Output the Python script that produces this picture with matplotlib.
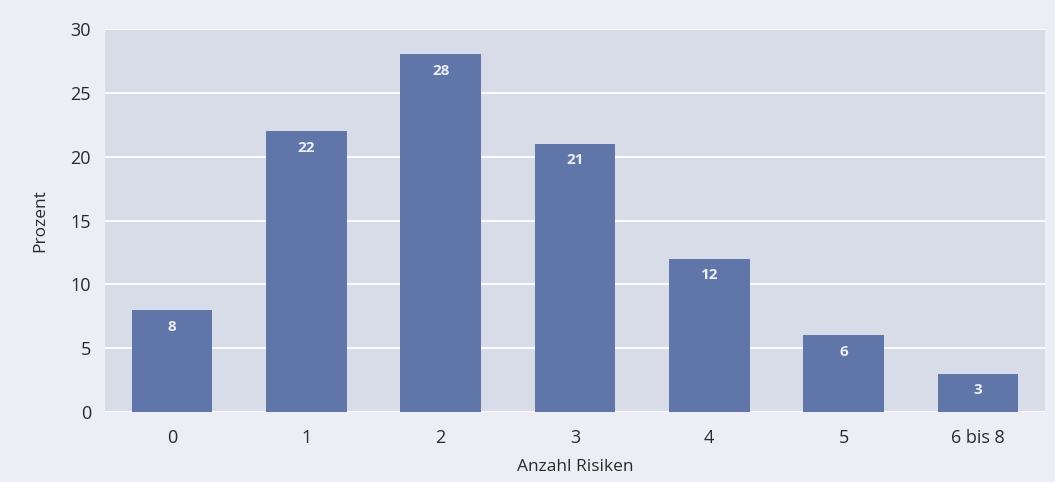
import matplotlib.pyplot as plt

categories = ["0", "1", "2", "3", "4", "5", "6 bis 8"]
values = [8, 22, 28, 21, 12, 6, 3]

plt.rcParams["font.family"] = ["Open Sans", "DejaVu Sans"]

fig = plt.figure(figsize=(10.55, 4.82), dpi=100, facecolor="#edeef5")
ax = fig.add_axes([0.0995, 0.145, 0.891, 0.795])
ax.set_facecolor("#d8dce9")

x = range(len(categories))
ax.bar(x, values, width=0.6, color="#6176a8", zorder=3)
for xi, v in zip(x, values):
    ax.text(xi, v - 1.3, str(v), ha="center", va="center", color="#eceef5",
            fontsize=11, fontweight="bold", zorder=4)

ax.set_xlim(-0.5, 6.5)
ax.set_ylim(0, 30)
ax.set_yticks(range(0, 31, 5))
ax.set_xticks(list(x))
ax.set_xticklabels(categories)
ax.grid(axis="y", color="white", linewidth=1.3, zorder=1)
ax.tick_params(axis="y", length=0, labelsize=13, colors="#2a2a2a", pad=10)
ax.tick_params(axis="x", length=0, labelsize=13, colors="#2a2a2a", pad=12)
for s in ax.spines.values():
    s.set_visible(False)

ax.set_xlabel("Anzahl Risiken", fontsize=12.5, color="#2a2a2a", labelpad=9)
ax.set_ylabel("Prozent", fontsize=12.5, color="#2a2a2a", labelpad=16)

fig.savefig("out.png", dpi=100, facecolor=fig.get_facecolor())
